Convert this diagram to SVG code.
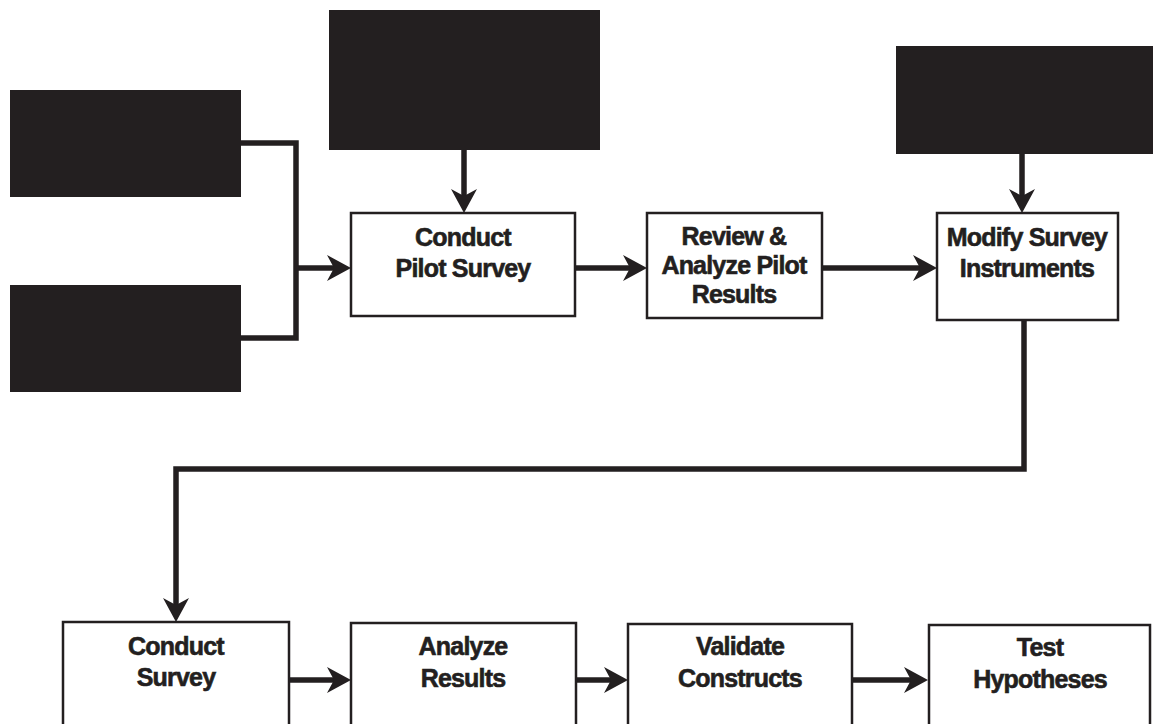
<svg xmlns="http://www.w3.org/2000/svg" width="1153" height="724" viewBox="0 0 1153 724">
<defs>
<style>
.blk{fill:#231f20;}
.box{fill:#fff;stroke:#231f20;stroke-width:2.5;}
.lbl{font-family:"Liberation Sans",Arial,sans-serif;font-weight:bold;font-size:25px;fill:#231f20;stroke:#231f20;stroke-width:0.6;text-anchor:middle;letter-spacing:-0.8px;}
.ln{fill:none;stroke:#231f20;stroke-width:5.5;stroke-linejoin:miter;}
.arr{marker-end:url(#ah);}
</style>
<marker id="ah" markerUnits="userSpaceOnUse" viewBox="0 0 24 26" refX="12" refY="13" markerWidth="24" markerHeight="26" orient="auto">
<path d="M0,0 L24,13 L0,26 L7,13 Z" fill="#231f20"/>
</marker>
</defs>
<rect width="1153" height="724" fill="#fff"/>
<g id="connectors">
<path class="ln" d="M241,143 H296 V338 H241"/>
<path class="ln arr" d="M296,268 H339"/>
<path class="ln arr" d="M464,150 V201"/>
<path class="ln arr" d="M575,268 H635"/>
<path class="ln arr" d="M822,268 H925"/>
<path class="ln arr" d="M1022,154 V201"/>
<path class="ln arr" d="M1024,320 V469 H176 V610"/>
<path class="ln arr" d="M289,680 H339"/>
<path class="ln arr" d="M576,680 H616"/>
<path class="ln arr" d="M852,680 H916"/>
</g>
<g id="blackA"><rect class="blk" x="10" y="90" width="231" height="107"/></g>
<g id="blackB"><rect class="blk" x="10" y="285" width="231" height="107"/></g>
<g id="blackC"><rect class="blk" x="329" y="10" width="271" height="140"/></g>
<g id="blackD"><rect class="blk" x="896" y="46" width="260" height="108"/></g>
<g id="pilot">
<rect class="box" x="351" y="213" width="224" height="103"/>
<text class="lbl" x="463" y="246">Conduct</text>
<text class="lbl" x="463" y="277">Pilot Survey</text>
</g>
<g id="review">
<rect class="box" x="647" y="213" width="175" height="105"/>
<text class="lbl" x="734" y="245">Review &amp;</text>
<text class="lbl" x="734" y="274">Analyze Pilot</text>
<text class="lbl" x="734" y="303">Results</text>
</g>
<g id="modify">
<rect class="box" x="937" y="213" width="181" height="107"/>
<text class="lbl" x="1027" y="246">Modify Survey</text>
<text class="lbl" x="1027" y="277">Instruments</text>
</g>
<g id="survey">
<rect class="box" x="63" y="622" width="226" height="120"/>
<text class="lbl" x="176" y="655">Conduct</text>
<text class="lbl" x="176" y="686">Survey</text>
</g>
<g id="analyze">
<rect class="box" x="351" y="623" width="225" height="120"/>
<text class="lbl" x="463" y="655">Analyze</text>
<text class="lbl" x="463" y="687">Results</text>
</g>
<g id="validate">
<rect class="box" x="628" y="624" width="224" height="120"/>
<text class="lbl" x="740" y="655">Validate</text>
<text class="lbl" x="740" y="687">Constructs</text>
</g>
<g id="test">
<rect class="box" x="929" y="625" width="221" height="120"/>
<text class="lbl" x="1040" y="656">Test</text>
<text class="lbl" x="1040" y="688">Hypotheses</text>
</g>
</svg>
